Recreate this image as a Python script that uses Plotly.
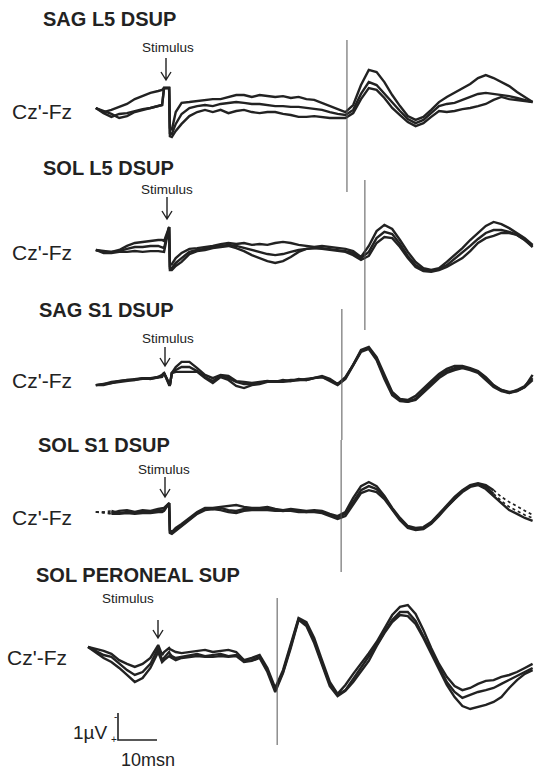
import plotly.graph_objects as go

# ---------------- data (time in ms, amplitude in µV, upward deflection positive) ----------------
TIME_MS = [-20, -18, -16, -14, -12, -10, -8, -6, -4, -2, -1, -0.5, 0.8, 1.0, 1.5, 2.5,
           4, 6, 8, 10, 12, 14, 16, 18, 20, 22, 24, 26, 28, 30, 32, 34, 36, 38, 40,
           42, 44, 46, 48, 50, 52, 54, 56, 58, 60, 62, 64, 66, 68, 70, 72, 74, 76,
           78, 80, 82, 84, 86, 88, 90, 92, 94]

PANEL_TITLES = ["SAG L5 DSUP", "SOL L5 DSUP", "SAG S1 DSUP", "SOL S1 DSUP", "SOL PERONEAL SUP"]
CHANNEL_LABEL = "Cz'-Fz"
STIM_LABEL = "Stimulus"
LATENCY_MS = [46.4, 51.0, 45.1, 44.9, 28.5]
SCALE_MS = 10
SCALE_UV = 1

P1_A = [None, 0, -0.15, -0.07, 0.04, 0.15, 0.33, 0.44, 0.56, 0.63, 0.67, 0.74, 0.74, -0.74, -0.81, -0.15,
        0.19, 0.22, 0.26, 0.30, 0.33, 0.33, 0.41, 0.48, 0.48, 0.41, 0.48, 0.44, 0.41, 0.44, 0.37, 0.41,
        0.33, 0.30, 0.19, 0.07, -0.04, -0.15, 0.11, 0.85, 1.41, 1.33, 0.96, 0.48, 0.07, -0.30, -0.44,
        -0.33, -0.07, 0.22, 0.41, 0.56, 0.74, 0.89, 1.11, 1.22, 1.11, 0.96, 0.81, 0.59, 0.41, 0.22]
P1_B = [None, 0, -0.19, -0.33, -0.22, -0.19, -0.11, -0.04, 0, 0.07, 0.11, 0.74, 0.74, -0.93, -0.96, -0.59,
        -0.22, 0, 0.07, 0.11, 0.07, 0.15, 0.19, 0.22, 0.19, 0.15, 0.15, 0.11, 0.07, 0.07, 0.04, 0.04,
        0, -0.04, -0.07, -0.15, -0.22, -0.26, -0.07, 0.52, 0.96, 0.85, 0.52, 0.19, -0.11, -0.41, -0.56,
        -0.44, -0.19, 0.07, 0.15, 0.19, 0.30, 0.41, 0.52, 0.56, 0.52, 0.48, 0.44, 0.37, 0.30, 0.22]
P1_C = [None, 0, -0.11, -0.22, -0.37, -0.30, -0.15, -0.07, 0, 0.07, 0.11, 0.74, 0.74, -1.04, -1.07, -0.85,
        -0.59, -0.30, -0.15, -0.07, -0.15, -0.07, -0.19, -0.11, -0.07, -0.15, -0.19, -0.15, -0.15, -0.22,
        -0.26, -0.33, -0.33, -0.30, -0.33, -0.37, -0.37, -0.37, -0.19, 0.33, 0.74, 0.67, 0.37, 0, -0.26,
        -0.52, -0.67, -0.56, -0.33, -0.11, -0.15, -0.11, -0.04, 0, 0.07, 0.15, 0.30, 0.41, 0.33, 0.30, 0.26, 0.22]

P2_A = [None, 0, -0.04, -0.07, 0, 0.15, 0.26, 0.30, 0.33, 0.37, 0.37, 0.33, 0.85, -0.56, -0.52, -0.30,
        -0.11, 0.04, 0.07, 0.11, 0.15, 0.22, 0.26, 0.22, 0.26, 0.19, 0.22, 0.19, 0.26, 0.30, 0.26, 0.19,
        0.15, 0.11, 0.15, 0.11, 0.07, 0.04, -0.04, -0.26, 0.15, 0.70, 0.93, 0.78, 0.37, -0.07, -0.44,
        -0.67, -0.74, -0.67, -0.44, -0.19, 0.07, 0.37, 0.63, 0.89, 1.04, 0.96, 0.81, 0.63, 0.44, 0.19]
P2_B = [None, 0, -0.07, -0.07, -0.04, 0.04, 0.11, 0.11, 0.15, 0.15, 0.11, 0.07, 0.85, -0.67, -0.67, -0.48,
        -0.30, -0.07, 0, 0.04, 0.11, 0.15, 0.19, 0.15, 0.07, 0, -0.07, -0.15, -0.19, -0.15, -0.07, 0,
        0.04, 0.07, 0.07, 0.04, 0, -0.04, -0.11, -0.30, -0.07, 0.44, 0.67, 0.59, 0.22, -0.22, -0.56,
        -0.74, -0.78, -0.70, -0.56, -0.33, -0.11, 0.15, 0.41, 0.63, 0.74, 0.74, 0.67, 0.56, 0.37, 0.15]
P2_C = [None, 0, -0.11, -0.11, -0.07, -0.07, -0.04, -0.07, -0.04, -0.04, -0.07, -0.07, 0.85, -0.74, -0.74,
        -0.59, -0.44, -0.15, -0.04, 0, 0.07, 0.11, 0.15, 0.07, -0.04, -0.19, -0.30, -0.41, -0.48, -0.41,
        -0.26, -0.07, 0.04, 0.07, 0.04, 0, -0.04, -0.07, -0.19, -0.37, -0.22, 0.26, 0.48, 0.44, 0.11,
        -0.30, -0.63, -0.78, -0.81, -0.74, -0.63, -0.48, -0.30, -0.04, 0.26, 0.44, 0.52, 0.63, 0.63, 0.56, 0.37, 0.11]

P3_A = [None, -0.19, -0.15, -0.07, -0.04, 0, 0.04, 0.07, 0.07, 0.11, 0.19, 0.26, -0.19, -0.19, 0.26, 0.48,
        0.67, 0.67, 0.44, 0.19, 0.07, 0.19, 0.15, -0.04, -0.07, -0.11, -0.07, -0.04, -0.07, 0, -0.04,
        0.04, 0, 0.07, 0.15, 0.04, -0.15, 0.11, 0.56, 1.11, 1.22, 0.85, 0.19, -0.44, -0.70, -0.74, -0.59,
        -0.30, -0.04, 0.22, 0.41, 0.52, 0.52, 0.44, 0.33, 0.11, -0.19, -0.37, -0.44, -0.41, -0.26, 0.19]
P3_B = [None, -0.19, -0.15, -0.11, -0.04, 0, 0, 0.07, 0.04, 0.11, 0.15, 0.26, -0.19, -0.19, 0.26, 0.37,
        0.48, 0.48, 0.33, 0.11, -0.04, 0.15, 0.07, -0.07, -0.15, -0.15, -0.11, -0.04, -0.04, -0.04, 0,
        0, 0.04, 0.07, 0.11, 0, -0.15, 0.07, 0.56, 1.07, 1.19, 0.78, 0.11, -0.48, -0.74, -0.81, -0.70,
        -0.41, -0.15, 0.15, 0.33, 0.44, 0.48, 0.41, 0.30, 0.07, -0.22, -0.37, -0.48, -0.37, -0.22, 0.07]
P3_C = [None, -0.19, -0.19, -0.11, -0.07, -0.04, 0, 0.04, 0.04, 0.07, 0.11, 0.26, -0.19, -0.19, 0.26, 0.30,
        0.30, 0.30, 0.30, 0.07, -0.11, 0.11, 0, -0.22, -0.30, -0.19, -0.15, -0.07, -0.07, -0.07, -0.04,
        0, 0, 0.07, 0.11, -0.04, -0.19, 0.04, 0.52, 1.04, 1.15, 0.74, 0.04, -0.56, -0.78, -0.81, -0.74,
        -0.48, -0.22, 0.07, 0.26, 0.37, 0.44, 0.37, 0.26, 0, -0.26, -0.41, -0.48, -0.41, -0.26, 0]

P4_A = [None, 0, 0, -0.04, 0.04, 0.07, 0, 0.07, 0.04, 0.11, 0.15, 0.15, 0.33, -0.67, -0.74, -0.59,
        -0.44, -0.22, 0, 0.15, 0.15, 0.19, 0.22, 0.26, 0.19, 0.15, 0.15, 0.19, 0.11, 0.07, 0.11, 0.07,
        0.04, 0.07, 0.04, -0.07, -0.15, 0, 0.52, 0.96, 1.11, 0.96, 0.59, 0.15, -0.22, -0.52, -0.59,
        -0.56, -0.37, -0.07, 0.26, 0.56, 0.81, 1.0, 1.07, 1.0, 0.81, 0.56, 0.37, 0.22, 0.04, -0.11]
P4_B = [None, 0, 0, 0.04, -0.04, 0, -0.04, 0, 0, 0.04, 0.07, 0.07, 0.33, -0.74, -0.78, -0.67,
        -0.48, -0.26, -0.04, 0.11, 0.11, 0.15, 0.07, 0.04, 0.11, 0.11, 0.11, 0.11, 0.07, 0.04, 0.07, 0.04,
        0, 0.04, 0, -0.11, -0.19, -0.07, 0.37, 0.81, 0.96, 0.85, 0.56, 0.11, -0.26, -0.56, -0.63,
        -0.59, -0.41, -0.11, 0.22, 0.52, 0.78, 0.96, 1.04, 0.93, 0.67, 0.41, 0.19, 0.04, -0.11, -0.22]
P4_C = [None, 0, -0.04, -0.07, -0.07, -0.04, -0.07, -0.04, -0.04, 0, 0, 0.04, 0.33, -0.78, -0.81, -0.70,
        -0.52, -0.30, -0.07, 0.07, 0.11, 0.07, 0, -0.04, 0.04, 0.07, 0.07, 0.07, 0.04, 0.04, 0.04, 0,
        0, 0, -0.04, -0.15, -0.26, -0.15, 0.26, 0.70, 0.81, 0.74, 0.48, 0.07, -0.30, -0.59, -0.67,
        -0.63, -0.44, -0.15, 0.19, 0.48, 0.74, 0.93, 1.0, 0.85, 0.59, 0.33, 0.07, -0.07, -0.22, -0.33]

P5_A = [0.30, 0.22, 0.15, 0.04, -0.19, -0.33, -0.44, -0.33, -0.11, 0.37, 0, 0.11, 0.26, 0.22, 0.19, 0.11,
        0.07, 0.11, 0.15, 0.19, 0.11, 0.15, 0.19, 0.11, -0.19, -0.11, 0, -0.48, -1.22, -0.56, 0.37, 1.37,
        1.22, 0.63, -0.19, -1.0, -1.44, -1.11, -0.70, -0.33, 0.07, 0.48, 1.0, 1.48, 1.78, 1.85, 1.52,
        0.93, 0.26, -0.33, -0.81, -1.15, -1.30, -1.22, -1.07, -0.96, -0.93, -0.81, -0.74, -0.63, -0.48, -0.33]
P5_B = [0.30, 0.15, 0, -0.07, -0.33, -0.56, -0.74, -0.63, -0.33, 0.26, -0.19, -0.11, 0.11, 0.04, -0.04, -0.11,
        -0.07, 0, 0.04, -0.04, 0, 0.04, -0.04, 0, -0.22, -0.19, -0.07, -0.56, -1.30, -0.63, 0.33, 1.33,
        1.15, 0.52, -0.30, -1.07, -1.48, -1.30, -0.89, -0.48, -0.07, 0.37, 0.85, 1.30, 1.59, 1.59, 1.26,
        0.70, 0.11, -0.48, -1.0, -1.37, -1.59, -1.48, -1.37, -1.30, -1.22, -1.07, -0.93, -0.78, -0.63, -0.48]
P5_C = [0.30, 0.11, -0.11, -0.26, -0.48, -0.74, -1.0, -0.85, -0.48, 0.11, -0.26, -0.19, -0.04, -0.07, -0.11,
        -0.19, -0.11, -0.07, -0.04, -0.07, -0.07, -0.04, -0.07, -0.04, -0.26, -0.22, -0.11, -0.63, -1.37,
        -0.67, 0.26, 1.30, 1.07, 0.44, -0.37, -1.15, -1.52, -1.33, -1.0, -0.63, -0.22, 0.33, 0.81, 1.22,
        1.48, 1.44, 1.15, 0.63, 0.04, -0.56, -1.11, -1.56, -1.89, -2.0, -1.93, -1.85, -1.74, -1.56, -1.22,
        -0.93, -0.70, -0.56]

# ---------------- layout geometry (pixels on the 534x773 page) ----------------
W, H = 534, 773
PX_PER_MS = 3.9
PX_PER_UV = 27.0
ZERO_MS_PX = 166
FONT = "Liberation Sans, Arial, Helvetica, sans-serif"
INK = "#222222"

PANELS = [
    dict(title=PANEL_TITLES[0], traces=[P1_A, P1_B, P1_C], base=108, title_xy=(41, 19), stim_xy=(168, 47),
         arrow=(166, 58, 80), chan_xy=(10, 111), lat_span=(40, 192), lead_dash=None, tail_dash=[None, None, None]),
    dict(title=PANEL_TITLES[1], traces=[P2_A, P2_B, P2_C], base=250, title_xy=(41, 168), stim_xy=(167, 189),
         arrow=(167, 197, 219), chan_xy=(10, 252), lat_span=(180, 330), lead_dash=None, tail_dash=[None, None, None]),
    dict(title=PANEL_TITLES[2], traces=[P3_A, P3_B, P3_C], base=380, title_xy=(37, 310), stim_xy=(168, 338),
         arrow=(165, 347, 366), chan_xy=(10, 380), lat_span=(309, 440), lead_dash=None, tail_dash=[None, None, None]),
    dict(title=PANEL_TITLES[3], traces=[P4_A, P4_B, P4_C], base=512, title_xy=(36, 445), stim_xy=(164, 469),
         arrow=(165, 477, 497), chan_xy=(10, 517), lat_span=(440, 572), lead_dash=-14, tail_dash=[84, 84, None]),
    dict(title=PANEL_TITLES[4], traces=[P5_A, P5_B, P5_C], base=655, title_xy=(34, 575), stim_xy=(128, 598),
         arrow=(158, 620, 638), chan_xy=(5, 657), lat_span=(598, 745), lead_dash=None, tail_dash=[None, None, None]),
]


def px_x(x):
    return x / W


def px_y(y):
    return 1 - y / H


fig = go.Figure()
shapes = []
annotations = []

for i, p in enumerate(PANELS):
    offset = (H - p["base"]) / PX_PER_UV
    for j, amps in enumerate(p["traces"]):
        ys = [None if a is None else a + offset for a in amps]
        lead = p["lead_dash"]
        tail = p["tail_dash"][j]
        solid = []
        dashed = []
        for t, v in zip(TIME_MS, ys):
            in_lead = lead is not None and t <= lead
            in_tail = tail is not None and t >= tail
            solid.append(v if (not in_lead or t == lead) and (not in_tail or t == tail) else None)
            dashed.append(v if in_lead or in_tail else None)
        fig.add_trace(go.Scatter(x=TIME_MS, y=solid, mode="lines",
                                 line=dict(color=INK, width=2.4), hoverinfo="skip"))
        if any(v is not None for v in dashed):
            fig.add_trace(go.Scatter(x=TIME_MS, y=dashed, mode="lines",
                                     line=dict(color=INK, width=1.7, dash="3px,3px"), hoverinfo="skip"))

    # latency marker line
    shapes.append(dict(type="line", xref="x", yref="paper", x0=LATENCY_MS[i], x1=LATENCY_MS[i],
                       y0=px_y(p["lat_span"][0]), y1=px_y(p["lat_span"][1]),
                       line=dict(color="#555555", width=1)))

    # stimulus arrow (open head)
    ax, ay0, ay1 = p["arrow"]
    hx, hy = 5.0, 8.0
    path = (f"M {px_x(ax)},{px_y(ay0)} L {px_x(ax)},{px_y(ay1)} "
            f"M {px_x(ax - hx)},{px_y(ay1 - hy)} L {px_x(ax)},{px_y(ay1)} L {px_x(ax + hx)},{px_y(ay1 - hy)}")
    shapes.append(dict(type="path", xref="paper", yref="paper", path=path,
                       line=dict(color=INK, width=1.4)))

    tx, ty = p["title_xy"]
    annotations.append(dict(text=f"<b>{p['title']}</b>", x=px_x(tx), y=px_y(ty), xref="paper", yref="paper",
                            xanchor="left", yanchor="middle", showarrow=False,
                            font=dict(family=FONT, size=20, color=INK)))
    sx, sy = p["stim_xy"]
    annotations.append(dict(text=STIM_LABEL, x=px_x(sx), y=px_y(sy), xref="paper", yref="paper",
                            xanchor="center", yanchor="middle", showarrow=False,
                            font=dict(family=FONT, size=13.5, color=INK)))
    cx, cy = p["chan_xy"]
    annotations.append(dict(text=CHANNEL_LABEL, x=px_x(cx), y=px_y(cy), xref="paper", yref="paper",
                            xanchor="left", yanchor="middle", showarrow=False,
                            font=dict(family=FONT, size=21, color=INK)))

# calibration bar: 1 µV vertical, 10 ms horizontal
bar_x0 = (118 - ZERO_MS_PX) / PX_PER_MS
bar_y0 = (H - 740) / PX_PER_UV
fig.add_trace(go.Scatter(x=[bar_x0, bar_x0, bar_x0 + SCALE_MS],
                         y=[bar_y0 + SCALE_UV, bar_y0, bar_y0],
                         mode="lines", line=dict(color=INK, width=1.6), hoverinfo="skip"))
annotations.append(dict(text=f"{SCALE_UV}µV", x=px_x(110), y=px_y(732), xref="paper", yref="paper",
                        xanchor="right", yanchor="middle", showarrow=False,
                        font=dict(family=FONT, size=19, color=INK)))
annotations.append(dict(text="-", x=px_x(115), y=px_y(716), xref="paper", yref="paper",
                        xanchor="center", yanchor="middle", showarrow=False,
                        font=dict(family=FONT, size=10, color=INK)))
annotations.append(dict(text="+", x=px_x(114), y=px_y(739), xref="paper", yref="paper",
                        xanchor="center", yanchor="middle", showarrow=False,
                        font=dict(family=FONT, size=10, color=INK)))
annotations.append(dict(text=f"{SCALE_MS}msn", x=px_x(148), y=px_y(760), xref="paper", yref="paper",
                        xanchor="center", yanchor="middle", showarrow=False,
                        font=dict(family=FONT, size=18, color=INK)))

fig.update_layout(
    width=W, height=H,
    margin=dict(l=0, r=0, t=0, b=0),
    paper_bgcolor="white", plot_bgcolor="white",
    showlegend=False,
    xaxis=dict(range=[-ZERO_MS_PX / PX_PER_MS, (W - ZERO_MS_PX) / PX_PER_MS], visible=False, fixedrange=True),
    yaxis=dict(range=[0, H / PX_PER_UV], visible=False, fixedrange=True),
    shapes=shapes,
    annotations=annotations,
)

fig.write_html("out.html", config={"displayModeBar": False},
               post_script="document.body.style.margin='0';document.body.style.overflow='hidden';")
